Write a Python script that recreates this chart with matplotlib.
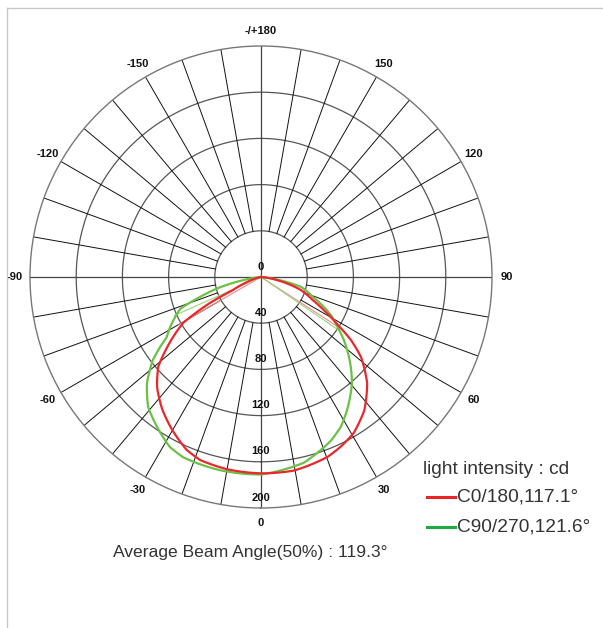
import numpy as np
import matplotlib
matplotlib.use("Agg")
import matplotlib.pyplot as plt
from matplotlib.lines import Line2D

# C0/180 curve (angle in degrees from nadir, positive towards 90 side; intensity in cd)
c0_angles = [-78, -70, -65, -63, -59.5, -56, -53.3, -48.9, -43.4, -36.7, -30.2, -23.2, -18.4, -10,
             0, 9.7, 20.4, 25.5, 30.8, 37.8, 45, 51.3, 55, 58, 62, 66, 72, 79, 86]
c0_cd = [0, 13, 27, 50, 78, 91, 101, 118, 131, 143, 153, 163, 167, 169,
         170, 170, 166, 162, 157, 146, 130, 111, 95, 78.5, 62, 49, 36, 14, 0]

# C90/270 curve
c90_angles = [-85, -80, -76, -72, -68.5, -62, -57.4, -52.5, -47, -41, -34.7, -28.2, -23.4, -12,
              0, 13, 23.2, 28, 32, 40.6, 47.7, 52, 56.5, 61, 65, 69, 76, 84]
c90_cd = [0, 15, 36, 55, 75, 88, 97, 118, 135, 149, 158, 167, 170, 171,
          171, 165, 154, 147, 139, 121, 103, 92, 80, 70, 59, 48, 36, 0]

# half-intensity beam edges
c0_beam = [-60, 57.1]
c90_beam = [-66, 55.6]
beam_r = 82

ring_values = [40, 80, 120, 160, 200]
angle_labels = ["0", "30", "60", "90", "120", "150", "-/+180", "-150", "-120", "-90", "-60", "-30"]
legend_title = "light intensity : cd"
series_names = ["C0/180,117.1°", "C90/270,121.6°"]
footer = "Average Beam Angle(50%) : 119.3°"

red = "#e8282c"
green = "#6cc046"

fig = plt.figure(figsize=(6.03, 6.28), dpi=100)
ax = fig.add_axes([30 / 603, 120 / 628, 462 / 603, 462 / 628], projection="polar")
ax.set_theta_zero_location("S")
ax.set_theta_direction(1)
ax.set_ylim(0, 200)
ax.grid(False)
ax.set_xticks([])
ax.set_yticks([])
ax.spines["polar"].set_color("#777777")
ax.spines["polar"].set_linewidth(1.0)

# rings
th = np.linspace(0, 2 * np.pi, 361)
for rv in ring_values[:-1]:
    ax.plot(th, np.full_like(th, rv), color="#555555", lw=0.9, zorder=1)

# spokes every 10 degrees
for a in range(0, 360, 10):
    t = np.deg2rad(a)
    if a % 90 == 0:
        ax.plot([t, t], [0, 200], color="#444444", lw=0.9, zorder=1)
    else:
        ax.plot([t, t], [40, 200], color="#111111", lw=0.7, zorder=1)

lab_kw = dict(ha="center", va="center", fontsize=8, fontweight="bold",
              family="Liberation Sans", color="#111111")

# angle labels
for i, lab in enumerate(angle_labels):
    ax.text(np.deg2rad(i * 30), 213, lab, **lab_kw)

# ring labels
ax.text(np.pi, 9, "0", **lab_kw)
for rv in ring_values:
    ax.text(0, rv - 9, str(rv), **lab_kw)

# beam lines
for b in c0_beam:
    ax.plot([0, np.deg2rad(b)], [0, beam_r], color="#f28a8a", lw=0.8, zorder=2)
for b in c90_beam:
    ax.plot([0, np.deg2rad(b)], [0, beam_r], color="#9ad47e", lw=0.8, zorder=2)

# curves (drawn as spiral segments between read points)
lg, = ax.plot(np.deg2rad(c90_angles), c90_cd, color=green, lw=1.6, zorder=3)
lr, = ax.plot(np.deg2rad(c0_angles), c0_cd, color=red, lw=1.6, zorder=4)
for ln in (lg, lr):
    ln.get_path()._interpolation_steps = 40

# legend
txt_kw = dict(family="Liberation Sans", color="#333333", ha="left", va="center")
fig.text(423 / 603, 1 - 470 / 628, legend_title, fontsize=13.8, **txt_kw)
fig.add_artist(Line2D([427 / 603, 455 / 603], [1 - 497 / 628] * 2, color="#e8262a", lw=2.2))
fig.add_artist(Line2D([427 / 603, 455 / 603], [1 - 527 / 628] * 2, color="#1faa44", lw=2.2))
fig.text(457 / 603, 1 - 497 / 628, series_names[0], fontsize=13.8, **txt_kw)
fig.text(457 / 603, 1 - 527 / 628, series_names[1], fontsize=13.8, **txt_kw)

fig.text(113 / 603, 1 - 552 / 628, footer, fontsize=12.6, **txt_kw)

# frame lines
fig.add_artist(Line2D([7 / 603, 1], [1 - 8 / 628] * 2, color="#c8c8c8", lw=1))
fig.add_artist(Line2D([7 / 603, 7 / 603], [0, 1 - 8 / 628], color="#c8c8c8", lw=1))

fig.savefig("out.png", dpi=100)
